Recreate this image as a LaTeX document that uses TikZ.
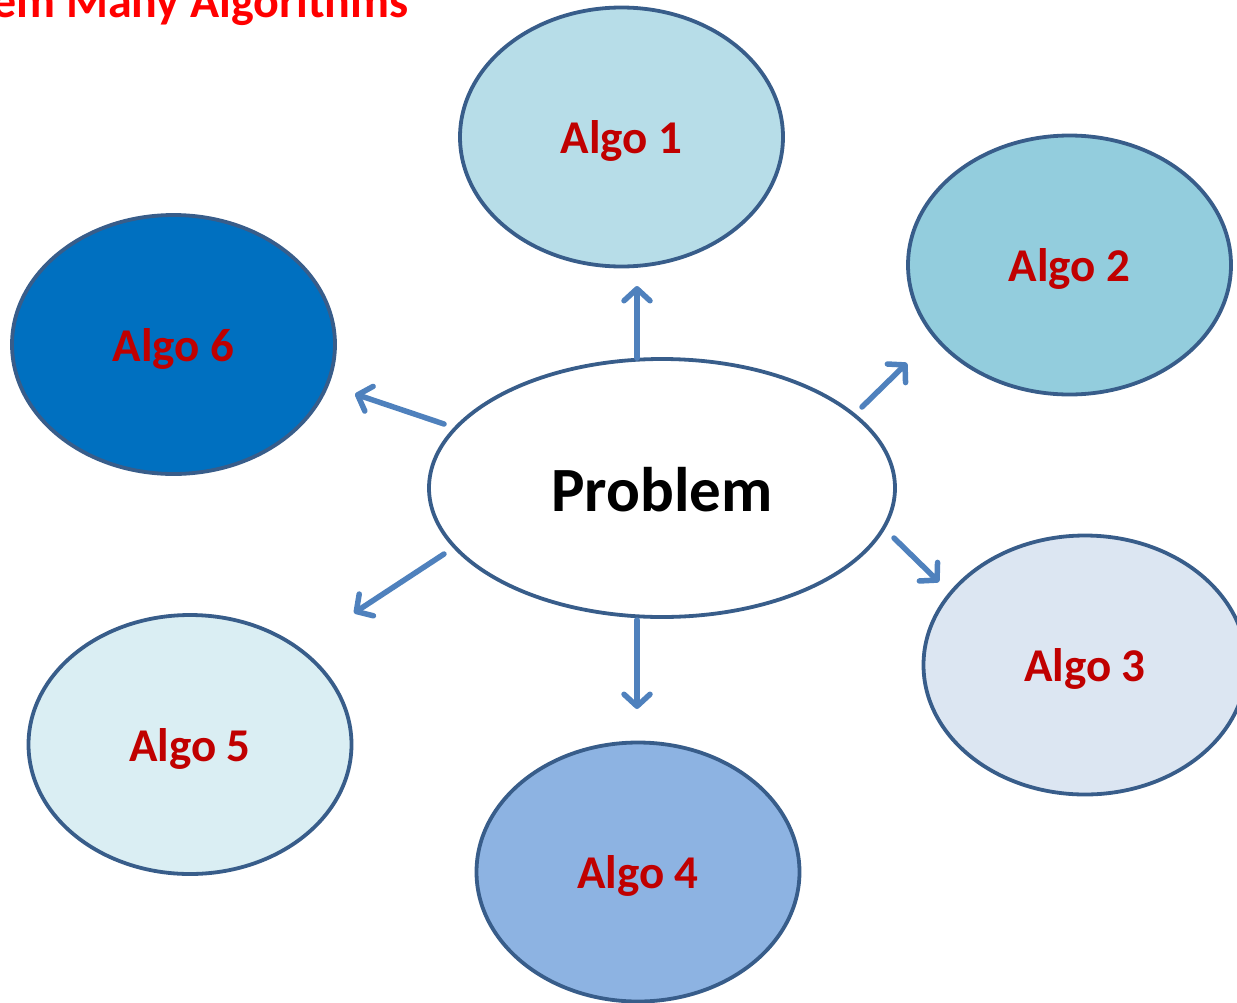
\documentclass[tikz,border=0pt]{standalone}
\usepackage{fontspec}
\setmainfont{Carlito}
\usetikzlibrary{shapes.geometric,arrows.meta}
\definecolor{rimblue}{HTML}{385D8A}
\definecolor{arrowblue}{HTML}{4F81BD}
\definecolor{labelred}{HTML}{C00000}
\definecolor{fillA}{HTML}{B7DDE8}
\definecolor{fillB}{HTML}{93CDDD}
\definecolor{fillC}{HTML}{DCE6F2}
\definecolor{fillD}{HTML}{8DB3E2}
\definecolor{fillE}{HTML}{DAEEF3}
\definecolor{fillF}{HTML}{0070C0}
% lower a label inside its node without changing the node's size
\newcommand\droptext[2]{\raisebox{-#1}[\height][\depth]{#2}}
\tikzset{
  algo/.style={ellipse, draw=rimblue, line width=3.8pt, minimum width=323pt,
    minimum height=259pt, inner sep=0pt, text=labelred,
    font=\fontsize{47}{52}\selectfont\bfseries},
  link/.style={draw=arrowblue, line width=5.5pt, line cap=round, line join=round,
    -{Straight Barb[length=12pt,width=26pt,line cap=round,line join=round]}},
}
\begin{document}
\begin{tikzpicture}[x=1pt,y=-1pt]
\useasboundingbox (0,0) rectangle (1237,1002);
\clip (0,0) rectangle (1237,1002);
% title
\node[anchor=base east, inner sep=0pt, text=red,
  font=\fontsize{48}{54}\selectfont\bfseries] (title) at (409,17) {One Problem Many Algorithms};
% centre node
\node[ellipse, draw=rimblue, line width=3.8pt, fill=white, minimum width=466pt,
  minimum height=258pt, inner sep=0pt,
  font=\fontsize{63}{70}\selectfont\bfseries] (prob) at (662,488) {\droptext{2pt}{Problem}};
% algorithm nodes
\node[algo, fill=fillA] (a1) at (621.5,137) {\droptext{4pt}{Algo 1}};
\node[algo, fill=fillB] (a2) at (1069.5,265) {\droptext{4pt}{Algo 2}};
\node[algo, fill=fillC] (a3) at (1085,665) {\droptext{4pt}{Algo 3}};
\node[algo, fill=fillD] (a4) at (638,872) {\droptext{4pt}{Algo 4}};
\node[algo, fill=fillE] (a5) at (190,744.5) {\droptext{4pt}{Algo 5}};
\node[algo, fill=fillF] (a6) at (173.5,344.5) {\droptext{4pt}{Algo 6}};
% arrow end points
\coordinate (s1) at (637,358);  \coordinate (e1) at (637,286);
\coordinate (s2) at (862,407);  \coordinate (e2) at (907,363);
\coordinate (s3) at (894,538);  \coordinate (e3) at (939,582);
\coordinate (s4) at (637,620);  \coordinate (e4) at (637,709);
\coordinate (s5) at (444,554);  \coordinate (e5) at (354,613);
\coordinate (s6) at (444,424);  \coordinate (e6) at (355,394);
\draw[link] (s1) -- (e1);
\draw[link] (s2) -- (e2);
\draw[link] (s3) -- (e3);
\draw[link] (s4) -- (e4);
\draw[link] (s5) -- (e5);
\draw[link] (s6) -- (e6);
\end{tikzpicture}
\end{document}
